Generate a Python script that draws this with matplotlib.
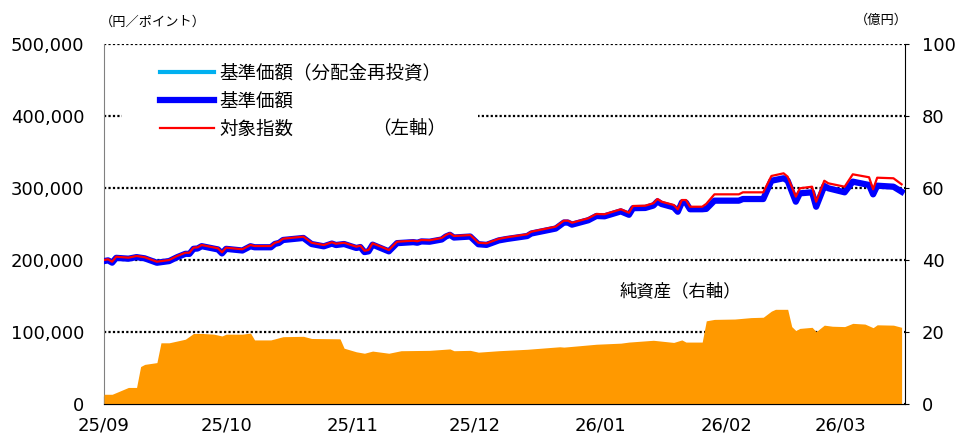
import matplotlib
matplotlib.use("Agg")
from matplotlib import pyplot as plt
import matplotlib.dates as mdates
from matplotlib.patches import Rectangle
from matplotlib.lines import Line2D
from matplotlib.ticker import FuncFormatter
import pandas as pd

JP = ['Noto Sans CJK JP', 'DejaVu Sans']

# price series (yen / index points)
price_dates = [
    "2025-09-01", "2025-09-02", "2025-09-03", "2025-09-04", "2025-09-07", "2025-09-09",
    "2025-09-11", "2025-09-14", "2025-09-17", "2025-09-19", "2025-09-21", "2025-09-22",
    "2025-09-23", "2025-09-24", "2025-09-25", "2025-09-29", "2025-09-30", "2025-10-01",
    "2025-10-05", "2025-10-07", "2025-10-08", "2025-10-12", "2025-10-13", "2025-10-14",
    "2025-10-15", "2025-10-20", "2025-10-22", "2025-10-25", "2025-10-27", "2025-10-28",
    "2025-10-30", "2025-11-02", "2025-11-03", "2025-11-04", "2025-11-05", "2025-11-06",
    "2025-11-10", "2025-11-12", "2025-11-16", "2025-11-17", "2025-11-18", "2025-11-20",
    "2025-11-23", "2025-11-24", "2025-11-25", "2025-11-26", "2025-11-30", "2025-12-02",
    "2025-12-04", "2025-12-07", "2025-12-09", "2025-12-14", "2025-12-15", "2025-12-21",
    "2025-12-23", "2025-12-24", "2025-12-25", "2025-12-29", "2025-12-31", "2026-01-02",
    "2026-01-06", "2026-01-08", "2026-01-09", "2026-01-12", "2026-01-14", "2026-01-15",
    "2026-01-16", "2026-01-19", "2026-01-20", "2026-01-21", "2026-01-22", "2026-01-23",
    "2026-01-26", "2026-01-27", "2026-01-29", "2026-02-04", "2026-02-05", "2026-02-10",
    "2026-02-12", "2026-02-15", "2026-02-16", "2026-02-18", "2026-02-19", "2026-02-22",
    "2026-02-23", "2026-02-25", "2026-02-26", "2026-03-02", "2026-03-04", "2026-03-08",
    "2026-03-09", "2026-03-10", "2026-03-14", "2026-03-16",
]
index_vals = [
    200000, 201000, 197600, 204600, 203200, 205600,
    203800, 197600, 200000, 205600, 210100, 210100,
    217100, 217600, 220800, 216300, 210700, 217100,
    214900, 220800, 219400, 219400, 224000, 225400,
    229600, 232400, 224000, 220800, 224600, 222600,
    224000, 218500, 219900, 212900, 213900, 223200,
    213900, 225400, 226800, 226000, 227800, 227400,
    230600, 234700, 237100, 233300, 234700, 224000,
    223200, 229400, 231500, 235700, 239300, 246300,
    254600, 254600, 251800, 257900, 263900, 263500,
    270400, 265700, 275000, 275400, 278800, 284700,
    281000, 276400, 270400, 283300, 283300, 274000,
    274000, 278000, 291200, 291200, 294000, 294000,
    316700, 320400, 315700, 288000, 299600, 301800,
    281000, 310100, 306500, 301800, 319000, 314900,
    298200, 314300, 313500, 305100,
]
nav_vals = [
    198500, 199500, 196300, 203000, 201800, 204000,
    202300, 196200, 198500, 204000, 208600, 208500,
    215500, 216000, 219200, 214700, 209100, 215500,
    213200, 219100, 217700, 217700, 222300, 223700,
    227800, 230600, 222200, 219000, 222800, 220800,
    222200, 216700, 218000, 211000, 212000, 221300,
    212000, 223400, 224800, 224000, 225800, 225400,
    228500, 232600, 235000, 231200, 232600, 221900,
    221000, 227200, 229200, 233300, 236800, 243700,
    252000, 252000, 249100, 255200, 261100, 260700,
    267500, 262800, 272000, 272300, 275600, 281500,
    277800, 273100, 267000, 279900, 279800, 270500,
    270500, 271000, 282400, 282400, 284700, 284700,
    310100, 313500, 310100, 281000, 292600, 294000,
    274000, 302800, 299600, 294000, 308800, 304200,
    291200, 303200, 301800, 294900,
]
# no distributions paid, so the reinvested NAV equals the NAV
nav_reinvested = list(nav_vals)

# net assets (100 million yen)
asset_dates = [
    "2025-09-01", "2025-09-03", "2025-09-07", "2025-09-09", "2025-09-10", "2025-09-11",
    "2025-09-14", "2025-09-15", "2025-09-17", "2025-09-21", "2025-09-23", "2025-09-25",
    "2025-09-28", "2025-09-30", "2025-10-01", "2025-10-05", "2025-10-07", "2025-10-08",
    "2025-10-12", "2025-10-15", "2025-10-20", "2025-10-22", "2025-10-29", "2025-10-30",
    "2025-11-02", "2025-11-04", "2025-11-06", "2025-11-10", "2025-11-13", "2025-11-20",
    "2025-11-25", "2025-11-26", "2025-11-30", "2025-12-02", "2025-12-07", "2025-12-14",
    "2025-12-22", "2025-12-23", "2025-12-31", "2026-01-06", "2026-01-08", "2026-01-14",
    "2026-01-19", "2026-01-21", "2026-01-22", "2026-01-26", "2026-01-27", "2026-01-29",
    "2026-02-03", "2026-02-07", "2026-02-10", "2026-02-12", "2026-02-13", "2026-02-16",
    "2026-02-17", "2026-02-18", "2026-02-19", "2026-02-22", "2026-02-23", "2026-02-25",
    "2026-02-27", "2026-03-02", "2026-03-04", "2026-03-07", "2026-03-09", "2026-03-10",
    "2026-03-14", "2026-03-16",
]
net_assets = [
    2.7, 2.7, 4.6, 4.6, 10.4, 11.0,
    11.5, 17.0, 17.0, 18.0, 19.6, 19.6,
    19.4, 18.9, 19.4, 19.4, 19.7, 17.8,
    17.8, 18.7, 18.8, 18.2, 18.1, 15.5,
    14.5, 14.1, 14.7, 14.1, 14.8, 14.9,
    15.3, 14.8, 14.9, 14.4, 14.8, 15.2,
    15.9, 15.8, 16.6, 16.9, 17.2, 17.7,
    17.1, 17.8, 17.2, 17.2, 23.1, 23.5,
    23.6, 24.0, 24.1, 25.8, 26.3, 26.3,
    21.5, 20.4, 21.0, 21.3, 20.1, 21.9,
    21.6, 21.5, 22.4, 22.2, 21.2, 22.0,
    21.9, 21.3,
]

px = pd.to_datetime(price_dates)
ax_dates = pd.to_datetime(asset_dates)

fig = plt.figure(figsize=(9.55, 4.43), dpi=100)
ax = fig.add_axes([104 / 955, 1 - 404 / 443, 801 / 955, 360 / 443])
ax2 = ax.twinx()

ax.set_axisbelow(True)
ax.set_ylim(0, 500000)
ax.set_yticks(range(0, 500001, 100000))
ax.yaxis.set_major_formatter(FuncFormatter(lambda v, p: f"{int(v):,}"))
ax.yaxis.grid(True, color='black', linestyle=(0, (1, 1)), linewidth=1.6)
ax.set_xlim(pd.Timestamp("2025-09-01"), pd.Timestamp("2026-03-16 20:00"))

# white box behind legend hides the grid line there
ax.add_patch(Rectangle((0.0225, 0.735), 0.444, 0.225, transform=ax.transAxes,
                       facecolor='white', edgecolor='none', zorder=1))

ax.plot(px, nav_reinvested, color='#00B0F0', lw=3, zorder=3)
ax.plot(px, nav_vals, color='#0000FF', lw=4.5, zorder=4)
ax.plot(px, index_vals, color='#FF0000', lw=1.6, zorder=5)

ax2.fill_between(ax_dates, net_assets, 0, color='#FF9900', lw=0)
ax2.set_ylim(0, 100)
ax2.set_yticks(range(0, 101, 20))

ax.xaxis.set_major_locator(mdates.MonthLocator())
ax.xaxis.set_major_formatter(mdates.DateFormatter('%y/%m'))

for a in (ax, ax2):
    a.spines['top'].set_visible(False)
ax.spines['left'].set_color('#808080')
ax.spines['right'].set_visible(False)
ax2.spines['left'].set_visible(False)
ax2.spines['right'].set_color('black')
ax.spines['bottom'].set_color('#333333')

ax.tick_params(axis='y', length=0, pad=14, labelsize=13)
ax.tick_params(axis='x', direction='in', length=6, pad=9, labelsize=13)
ax2.tick_params(axis='y', direction='out', length=3, pad=9, labelsize=13)

handles = [
    Line2D([], [], color='#00B0F0', lw=3),
    Line2D([], [], color='#0000FF', lw=4.5),
    Line2D([], [], color='#FF0000', lw=1.6),
]
labels = ["基準価額（分配金再投資）", "基準価額", "対象指数"]
leg = ax.legend(handles, labels, loc='upper left', bbox_to_anchor=(160 / 955, 1 - 64 / 443),
                bbox_transform=fig.transFigure, frameon=False, borderpad=0, borderaxespad=0,
                handlelength=2.9, handletextpad=0.3, labelspacing=0.56,
                prop={'family': JP, 'size': 13.3})
leg.set_zorder(6)

fig.text(372 / 955, 1 - 128 / 443, "（左軸）", family=JP, fontsize=13.3, va='center', ha='left')
fig.text(620 / 955, 1 - 291 / 443, "純資産（右軸）", family=JP, fontsize=12.5, va='center', ha='left')
fig.text(100 / 955, 1 - 22 / 443, "（円／ポイント）", family=JP, fontsize=9.5, va='center', ha='left')
fig.text(908 / 955, 1 - 20 / 443, "（億円）", family=JP, fontsize=9.5, va='center', ha='right')

fig.savefig("out.png", dpi=100)
